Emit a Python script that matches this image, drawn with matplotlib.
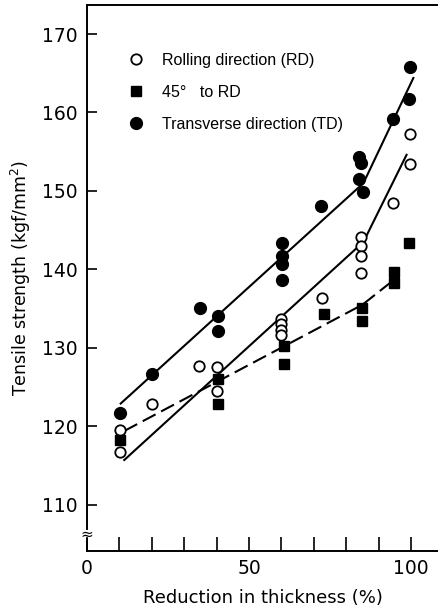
import matplotlib
matplotlib.use("Agg")
import matplotlib.pyplot as plt
import numpy as np

td_x = [10.2, 20.1, 35.0, 40.3, 40.3, 60.1, 60.1, 60.1, 60.1, 72.3, 84.0, 84.5, 84.0, 85.3, 94.3, 99.7, 99.5]
td_y = [121.7, 126.7, 135.1, 134.1, 132.2, 143.4, 141.7, 140.7, 138.7, 148.1, 154.3, 153.6, 151.5, 149.8, 159.2, 165.8, 161.7]

rd_x = [10.2, 10.2, 20.0, 34.7, 40.2, 40.2, 59.9, 59.9, 59.9, 59.9, 72.5, 84.5, 84.5, 84.5, 84.5, 94.5, 99.7, 99.7]
rd_y = [119.5, 116.7, 122.8, 127.7, 127.5, 124.5, 133.7, 133.0, 132.3, 131.6, 136.4, 144.1, 143.0, 141.7, 139.6, 148.5, 157.2, 153.4]

d45_x = [10.2, 40.5, 40.3, 60.7, 60.7, 73.0, 85.0, 85.0, 94.8, 94.8, 99.2]
d45_y = [118.2, 126.0, 122.9, 130.2, 127.9, 134.3, 135.1, 133.4, 139.7, 138.3, 143.4]

# fitted trend lines (vertices)
td_fit_x = [10.4, 85.3, 100.7]
td_fit_y = [122.9, 151.0, 164.4]
rd_fit_x = [11.5, 85.3, 98.6]
rd_fit_y = [115.7, 143.5, 154.6]
d45_fit_x = [11.5, 85.0, 94.5]
d45_fit_y = [119.4, 135.5, 138.6]

plt.rcParams['font.family'] = ['DejaVu Sans']

fig = plt.figure(figsize=(4.38, 6.12), dpi=100)
ax = fig.add_axes([87 / 438, 61 / 612, 351 / 438, 546 / 612])

lw = 1.5
ax.plot(td_fit_x, td_fit_y, color='black', lw=lw)
ax.plot(rd_fit_x, rd_fit_y, color='black', lw=lw)
ax.plot(d45_fit_x, d45_fit_y, color='black', lw=lw, dashes=(7, 3))

ax.plot(rd_x, rd_y, 'o', ms=7.5, mfc='white', mec='black', mew=1.3, ls='none',
        label='Rolling direction (RD)')
ax.plot(d45_x, d45_y, 's', ms=6.5, color='black', ls='none', label='45°   to RD')
ax.plot(td_x, td_y, 'o', ms=8.5, color='black', ls='none',
        label='Transverse direction (TD)')

ax.set_xlim(0, 108.3)
ax.set_ylim(104.1, 173.7)

ax.set_xticks(np.arange(0, 101, 10))
ax.set_xticklabels(['0', '', '', '', '', '50', '', '', '', '', '100'])
ax.set_yticks(np.arange(110, 171, 10))
ax.tick_params(axis='x', direction='in', length=10, width=1.2, labelsize=13.5, pad=6)
ax.tick_params(axis='y', direction='in', length=7, width=1.2, labelsize=13.5, pad=7)

ax.spines['right'].set_visible(False)
for s in ['left', 'bottom', 'top']:
    ax.spines[s].set_linewidth(1.4)

# axis break on the y axis
ax.spines['left'].set_bounds(106.9, 173.7)
ax.plot([0, 0], [104.1, 105.6], color='black', lw=1.4, clip_on=False)
ax.text(0, 106.25, '≈', ha='center', va='center', fontsize=11,
        transform=ax.transData)

ax.set_xlabel('Reduction in thickness (%)', fontsize=13, labelpad=8)
ax.set_ylabel('Tensile strength (kgf/mm$^2$)', fontsize=12.5, labelpad=6)

leg = ax.legend(loc='upper left', bbox_to_anchor=(0.12, 0.912), frameon=False,
                handlelength=0.8, handletextpad=1.25, labelspacing=1.05,
                borderpad=0, borderaxespad=0,
                prop={'family': ['Liberation Sans'], 'size': 11.5})

plt.savefig('out.png', dpi=100)
plt.close('all')
